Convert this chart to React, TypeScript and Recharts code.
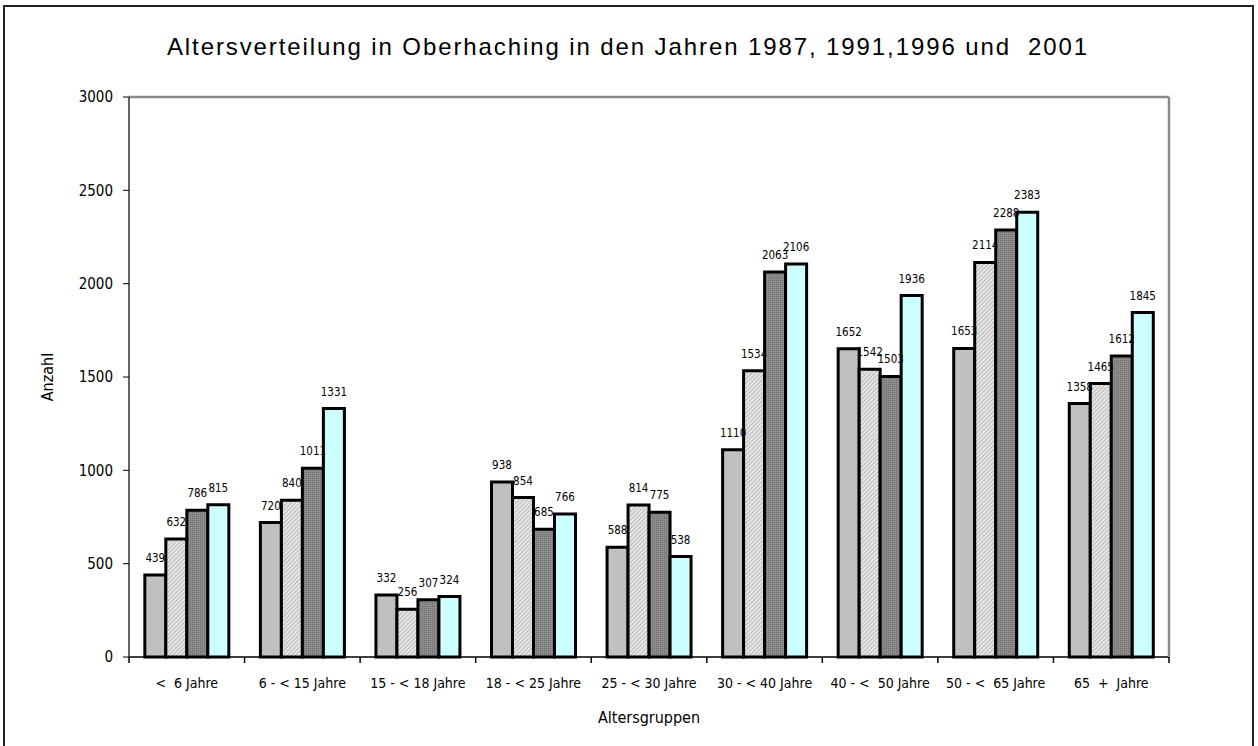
import { Bar, BarChart, LabelList, Label, XAxis, YAxis, ReferenceLine } from 'recharts'

const categories = [
  '<  6 Jahre',
  '6 - < 15 Jahre',
  '15 - < 18 Jahre',
  '18 - < 25 Jahre',
  '25 - < 30 Jahre',
  '30 - < 40 Jahre',
  '40 - <  50 Jahre',
  '50 - <  65 Jahre',
  '65  +  Jahre',
]
const values1987 = [439, 720, 332, 938, 588, 1110, 1652, 1653, 1358]
const values1991 = [632, 840, 256, 854, 814, 1534, 1542, 2114, 1465]
const values1996 = [786, 1011, 307, 685, 775, 2063, 1503, 2288, 1612]
const values2001 = [815, 1331, 324, 766, 538, 2106, 1936, 2383, 1845]
const yTicks = [0, 500, 1000, 1500, 2000, 2500, 3000]

const data = categories.map((cat, i) => ({
  cat,
  y1987: values1987[i],
  y1991: values1991[i],
  y1996: values1996[i],
  y2001: values2001[i],
}))

const NARROW = "'Liberation Sans Narrow', 'Arial Narrow', 'DejaVu Sans Condensed', sans-serif"
const PLOT_W = 1040
const BAND = PLOT_W / categories.length

function CategoryTick({ x, y, payload, index }: { x?: number; y?: number; payload?: { value: string }; index?: number }) {
  if (x == null || y == null || !payload) return null
  return (
    <g>
      <line x1={x - BAND / 2} x2={x - BAND / 2} y1={y} y2={y + 6} stroke="#000" strokeWidth={1.5} />
      {index === categories.length - 1 && (
        <line x1={x + BAND / 2} x2={x + BAND / 2} y1={y} y2={y + 6} stroke="#000" strokeWidth={1.5} />
      )}
      <text x={x} y={y + 31} textAnchor="middle" fontSize={14} fontFamily={NARROW} fill="#000" style={{ whiteSpace: 'pre' }}>
        {payload.value}
      </text>
    </g>
  )
}

export default function App() {
  const labelProps = { fontSize: 11.5, fontFamily: NARROW, fill: '#000', offset: 13 }
  return (
    <div style={{ position: 'absolute', left: 0, top: 0, width: 1258, height: 746, background: '#fff' }}>
      <div
        style={{
          position: 'absolute',
          left: 3,
          top: 5,
          width: 1251,
          height: 741,
          border: '2px solid #222',
          borderBottom: 'none',
          boxSizing: 'border-box',
        }}
      />
      <div
        style={{
          position: 'absolute',
          left: 0,
          top: 33,
          width: 1256,
          textAlign: 'center',
          fontFamily: "'Liberation Sans', Arial, sans-serif",
          fontSize: 24,
          letterSpacing: 1.9,
          whiteSpace: 'pre',
          color: '#000',
        }}
      >
        Altersverteilung in Oberhaching in den Jahren 1987, 1991,1996 und  2001
      </div>
      <div style={{ position: 'absolute', left: 0, top: 0 }}>
        <BarChart
          width={1258}
          height={746}
          data={data}
          margin={{ top: 97, right: 88, left: 0, bottom: 19 }}
          barCategoryGap="13.7%"
          barGap={0}
        >
          <defs>
            <pattern id="hatch" width="3" height="3" patternUnits="userSpaceOnUse" patternTransform="rotate(45)">
              <rect width="3" height="3" fill="#e6e6e6" />
              <line x1="0" y1="0" x2="0" y2="3" stroke="#9c9c9c" strokeWidth="1.2" />
            </pattern>
            <pattern id="dots" width="2" height="2" patternUnits="userSpaceOnUse">
              <rect width="2" height="2" fill="#8c8c8c" />
              <rect width="1" height="1" fill="#6f6f6f" />
            </pattern>
          </defs>
          <XAxis
            dataKey="cat"
            interval={0}
            height={70}
            tickSize={0}
            tickMargin={0}
            tickLine={false}
            axisLine={{ stroke: '#000', strokeWidth: 1.5 }}
            tick={<CategoryTick />}
          >
            <Label
              content={({ viewBox }: any) => (
                <text
                  x={viewBox.x + viewBox.width / 2}
                  y={viewBox.y + 66}
                  textAnchor="middle"
                  fontSize={16}
                  fontFamily={NARROW}
                  fill="#000"
                >
                  Altersgruppen
                </text>
              )}
            />
          </XAxis>
          <YAxis
            width={129}
            domain={[0, 3000]}
            ticks={yTicks}
            interval={0}
            tickSize={6}
            tickMargin={10}
            tick={{ fontSize: 15, fontFamily: NARROW, fill: '#000' }}
            tickLine={{ stroke: '#000' }}
            axisLine={{ stroke: '#333', strokeWidth: 1.5 }}
          >
            <Label
              content={({ viewBox }: any) => (
                <text
                  x={47}
                  y={viewBox.y + viewBox.height / 2}
                  transform={`rotate(-90 47 ${viewBox.y + viewBox.height / 2})`}
                  textAnchor="middle"
                  dominantBaseline="central"
                  fontSize={16}
                  fontFamily={NARROW}
                  fill="#000"
                >
                  Anzahl
                </text>
              )}
            />
          </YAxis>
          <YAxis
            yAxisId="right"
            orientation="right"
            width={1}
            domain={[0, 3000]}
            tick={false}
            tickLine={false}
            axisLine={{ stroke: '#8a8a8a', strokeWidth: 2.5 }}
          />
          <ReferenceLine y={3000} stroke="#8a8a8a" strokeWidth={2.5} />
          <Bar dataKey="y1987" fill="#c0c0c0" stroke="#000" strokeWidth={3} isAnimationActive={false}>
            <LabelList dataKey="y1987" position="top" {...labelProps} />
          </Bar>
          <Bar dataKey="y1991" fill="url(#hatch)" stroke="#000" strokeWidth={3} isAnimationActive={false}>
            <LabelList dataKey="y1991" position="top" {...labelProps} />
          </Bar>
          <Bar dataKey="y1996" fill="url(#dots)" stroke="#000" strokeWidth={3} isAnimationActive={false}>
            <LabelList dataKey="y1996" position="top" {...labelProps} />
          </Bar>
          <Bar dataKey="y2001" fill="#ccffff" stroke="#000" strokeWidth={3} isAnimationActive={false}>
            <LabelList dataKey="y2001" position="top" {...labelProps} />
          </Bar>
        </BarChart>
      </div>
    </div>
  )
}
